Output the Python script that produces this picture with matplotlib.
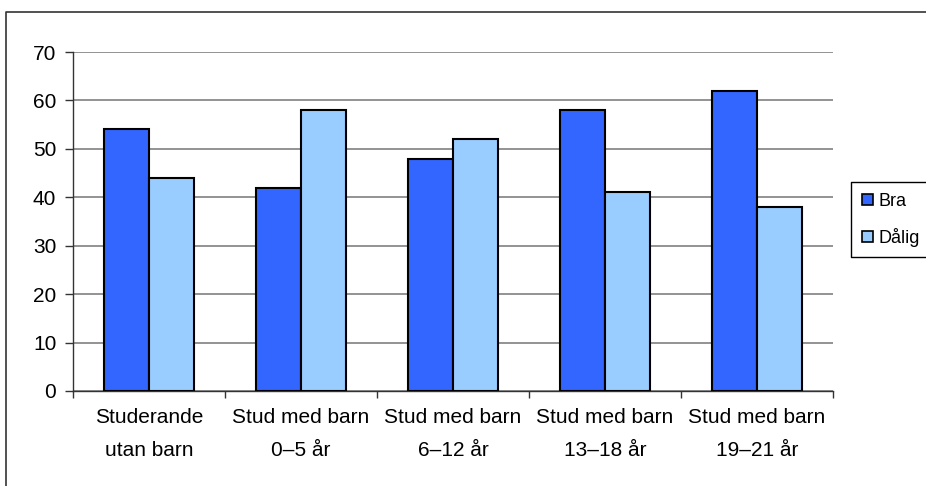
import numpy as np
import matplotlib.pyplot as plt
from matplotlib.lines import Line2D

categories = ["Studerande\nutan barn", "Stud med barn\n0–5 år", "Stud med barn\n6–12 år",
              "Stud med barn\n13–18 år", "Stud med barn\n19–21 år"]
bra = [54, 42, 48, 58, 62]
dalig = [44, 58, 52, 41, 38]
series_names = ["Bra", "Dålig"]

plt.rcParams['font.family'] = ['Liberation Sans', 'DejaVu Sans']

fig = plt.figure(figsize=(9.26, 4.86), dpi=100)
ax = fig.add_axes([73 / 926, 1 - 391 / 486, 760 / 926, 339 / 486])

x = np.arange(len(categories))
w = 0.293
ax.bar(x - w / 2, bra, w, color='#3366FF', edgecolor='black', linewidth=1.5,
       label=series_names[0], zorder=3)
ax.bar(x + w / 2, dalig, w, color='#99CCFF', edgecolor='black', linewidth=1.5,
       label=series_names[1], zorder=3)

ax.set_xlim(-0.5, len(categories) - 0.5)
ax.set_ylim(0, 70)
ax.set_yticks(range(0, 71, 10))
ax.yaxis.grid(True, color='#808080', linewidth=1.2, zorder=0)
ax.set_axisbelow(True)

ax.set_xticks(x)
ax.set_xticklabels(categories, fontsize=15, linespacing=1.95)
ax.set_xticks(np.arange(-0.5, len(categories), 1), minor=True)
ax.tick_params(axis='x', which='major', length=0, pad=12)
ax.tick_params(axis='x', which='minor', length=5, width=1, color='#333333')
ax.tick_params(axis='y', length=6, width=1, pad=6, labelsize=15, color='#333333')

for s in ['top', 'right']:
    ax.spines[s].set_visible(False)
for s in ['left', 'bottom']:
    ax.spines[s].set_color('#333333')
    ax.spines[s].set_linewidth(1)

# legend box runs past the right edge of the picture: draw only top, left, bottom
edge = 925.6 / 926
lx0, ly_top, ly_bot = 851 / 926, 1 - 182 / 486, 1 - 257 / 486
fig.add_artist(Line2D([edge, lx0, lx0, edge], [ly_top, ly_top, ly_bot, ly_bot],
                      color='black', linewidth=1, solid_capstyle='butt'))
leg = fig.legend(loc='upper left', bbox_to_anchor=(lx0, ly_top),
                 fontsize=13, frameon=False,
                 handlelength=0.6, handleheight=0.6, handletextpad=0.3,
                 labelspacing=1.0, borderpad=0.6, borderaxespad=0)
for h in leg.legend_handles:
    h.set_linewidth(1.2)

# outer chart frame (cut off on right and bottom)
fig.add_artist(Line2D([6 / 926, 6 / 926, edge], [0.4 / 486, 1 - 12 / 486, 1 - 12 / 486],
                      color='#333333', linewidth=1.2, solid_capstyle='butt'))

fig.savefig('out.png', dpi=100)
